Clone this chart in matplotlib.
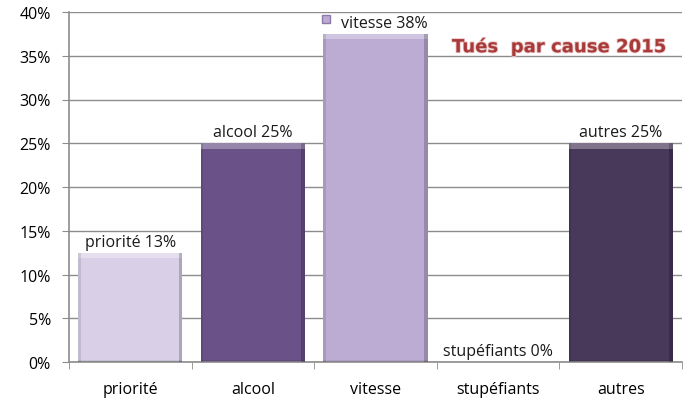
import matplotlib
matplotlib.use("Agg")
import matplotlib.pyplot as plt
import matplotlib.patheffects as pe
import matplotlib.transforms as mtransforms
from matplotlib.ticker import PercentFormatter, FixedLocator

# données
causes = ["priorité", "alcool", "vitesse", "stupéfiants", "autres"]
parts = [12.5, 25.0, 37.5, 0.0, 25.0]
etiquettes = ["priorité 13%", "alcool 25%", "vitesse 38%", "stupéfiants 0%", "autres 25%"]
couleurs = ["#D9D0E7", "#6A5289", "#BCACD4", "#B9A8D2", "#48385A"]
titre = "Tués  par cause 2015"

plt.rcParams["font.family"] = ["Open Sans", "DejaVu Sans"]
plt.rcParams["font.size"] = 11.5

fig = plt.figure(figsize=(6.93, 4.10), dpi=100)
ax = fig.add_axes([69 / 693, 47 / 410, 613 / 693, 350 / 410])

x = list(range(len(causes)))
larg = 0.85
ax.bar(x, parts, width=larg, color=couleurs, edgecolor="none", zorder=2)

# effet biseauté façon Excel 2007
for xi, v, c in zip(x, parts, couleurs):
    if v <= 0:
        continue
    ax.bar(xi, 0.6, bottom=v - 0.6, width=larg, color="white", alpha=0.3,
           edgecolor="none", zorder=3)
    ax.bar(xi + larg / 2 - 0.015, v, width=0.03, color="black", alpha=0.2,
           edgecolor="none", zorder=3)
    ax.bar(xi - larg / 2 + 0.01, v, width=0.02, color="black", alpha=0.1,
           edgecolor="none", zorder=3)
    ax.bar(xi, 0.25, width=larg, color="black", alpha=0.08,
           edgecolor="none", zorder=3)

for xi, v, lab in zip(x, parts, etiquettes):
    dx = 6 if lab.startswith("vitesse") else 0
    ax.annotate(lab, (xi, v), xytext=(dx, 2), textcoords="offset points",
                ha="center", va="bottom", color="#1a1a1a", zorder=5)
# petit carré de légende devant "vitesse 38%"
decal = mtransforms.ScaledTranslation(-36 / 72, 11 / 72, fig.dpi_scale_trans)
ax.plot([2], [parts[2]], marker="s", ms=6, mfc="#BCACD4", mec="#8C7AA8",
        transform=ax.transData + decal, clip_on=False, zorder=5)

ax.text(0.7985, 0.9, titre, transform=ax.transAxes, ha="center", va="center",
        fontsize=13, fontweight="bold", color="#A83A3A", family="DejaVu Sans",
        path_effects=[pe.withStroke(linewidth=1.2, foreground="#E8C0C0")])

ax.set_ylim(0, 40)
ax.set_xlim(-0.5, 4.5)
ax.yaxis.set_major_locator(FixedLocator([0, 5, 10, 15, 20, 25, 30, 35, 40]))
ax.yaxis.set_major_formatter(PercentFormatter(decimals=0))
ax.grid(axis="y", color="#8C8C8C", linewidth=1, zorder=0)
ax.set_axisbelow(True)

ax.set_xticks(x, causes)
ax.set_xticks([i - 0.5 for i in range(len(causes) + 1)], minor=True)
ax.tick_params(axis="x", which="major", length=0, pad=14)
ax.tick_params(axis="x", which="minor", length=5, color="#8C8C8C", direction="out")
ax.tick_params(axis="y", length=5, color="#8C8C8C", pad=8)

for s in ["top", "right"]:
    ax.spines[s].set_visible(False)
for s in ["left", "bottom"]:
    ax.spines[s].set_color("#8C8C8C")
    ax.spines[s].set_linewidth(1.2)

fig.savefig("out.png", dpi=100)
